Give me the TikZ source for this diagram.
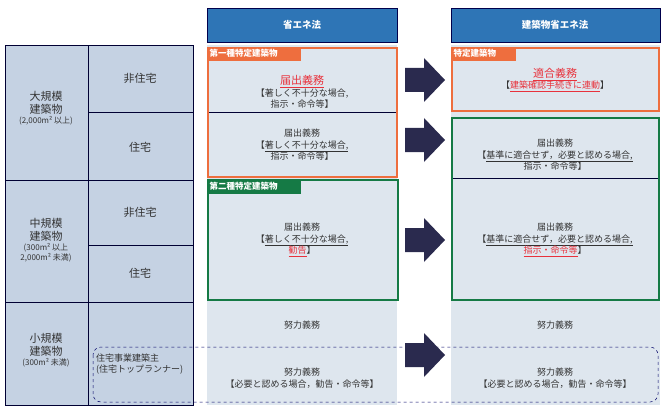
\documentclass[tikz,border=0pt]{standalone}
\usepackage{fontspec}
\setmainfont{Noto Sans CJK JP}
\newcommand{\smf}{\fontsize{8}{9}\selectfont}
\begin{document}
\begin{tikzpicture}[x=1pt,y=-1pt,
  cell/.style={draw=black!80!blue,line width=0.6pt,fill=cellc},
  txt/.style={align=center,font=\fontsize{9}{11.5}\selectfont,text=black!80,inner sep=1pt},
  big/.style={align=center,font=\fontsize{11}{13.5}\selectfont,text=black!80,inner sep=1pt},
  tag/.style={anchor=north west,font=\bfseries\fontsize{8.5}{10}\selectfont,text=white,inner sep=1.5pt},
  arr/.style={fill=navyc},
  hdr/.style={draw=black!70!blue,fill=hdrc,line width=0.8pt}]
\definecolor{cellc}{HTML}{C5D2E3}
\definecolor{bgc}{HTML}{DEE6EE}
\definecolor{hdrc}{HTML}{2E75B6}
\definecolor{orc}{HTML}{EE6E3E}
\definecolor{grc}{HTML}{157A45}
\definecolor{navyc}{HTML}{2A2A4E}
\definecolor{redc}{HTML}{E8323C}
\useasboundingbox (0,0) rectangle (666,409);
% left table
\draw[cell] (5,45) rectangle (88,180);
\draw[cell] (5,180) rectangle (88,302);
\draw[cell] (5,302) rectangle (88,405);
\draw[cell] (88,45) rectangle (193,112);
\draw[cell] (88,112) rectangle (193,180);
\draw[cell] (88,180) rectangle (193,245);
\draw[cell] (88,245) rectangle (193,302);
\draw[cell] (88,302) rectangle (193,405);
\node[big] (l1) at (46,108) {大規模\\建築物\\[-4pt]\smf (2,000m² 以上)};
\node[big] (l2) at (46,240) {中規模\\建築物\\[-4pt]\smf (300m² 以上\\[-3pt]\smf 2,000m² 未満)};
\node[big] (l3) at (46,350) {小規模\\建築物\\[-4pt]\smf (300m² 未満)};
\node[big] (s1) at (140,78) {非住宅};
\node[big] (s2) at (140,147) {住宅};
\node[big] (s3) at (140,212) {非住宅};
\node[big] (s4) at (140,273) {住宅};
% headers
\draw[hdr] (207,8) rectangle (397,42);
\node[font=\bfseries\fontsize{9.5}{11}\selectfont,text=white] (h1) at (302,25) {省エネ法};
\draw[hdr] (451,8) rectangle (660,42);
\node[font=\bfseries\fontsize{9.5}{11}\selectfont,text=white] (h2) at (555,25) {建築物省エネ法};
% backgrounds
\fill[bgc] (207,45) rectangle (397,405);
\fill[bgc] (451,45) rectangle (660,405);
\draw[black!80!blue,line width=0.5pt] (207,112) -- (397,112);
\draw[black!80!blue,line width=0.5pt] (451,178) -- (660,178);
% orange/green boxes
\draw[orc,line width=2pt] (208,48) rectangle (397,177);
\fill[orc] (208,48) rectangle (301,61);
\node[tag] (t1) at (208,47.5) {第一種特定建築物};
\draw[grc,line width=2pt] (208,180) rectangle (398,300);
\fill[grc] (208,180) rectangle (301,194);
\node[tag] (t2) at (208,180) {第二種特定建築物};
\draw[orc,line width=2pt] (452,48) rectangle (659,111);
\fill[orc] (452,48) rectangle (516,61);
\node[tag] (t3) at (452,47.5) {特定建築物};
\draw[grc,line width=2pt] (452,118) rectangle (659,300);
% middle texts
\node[txt] (m1) at (302,92) {\fontsize{11}{13}\selectfont\textcolor{redc}{\underline{届出義務}}\\【著しく不十分な場合,\\指示・命令等】};
\node[txt] (m2) at (302,145) {届出義務\\【\underline{著しく不十分な場合,}\\指示・命令等】};
\node[txt] (m3) at (302,240) {届出義務\\【\underline{著しく不十分な場合,}\\\textcolor{redc}{\underline{勧告}}】};
\node[txt] (m4) at (302,325) {努力義務};
\node[txt] (m5) at (302,378) {努力義務\\【必要と認める場合，勧告・命令等】};
% right texts
\node[txt] (r1) at (555,80) {\fontsize{11}{13}\selectfont\textcolor{redc}{\underline{適合義務}}\\【\textcolor{redc}{\underline{建築確認手続きに連動}}】};
\node[txt] (r2) at (555,155) {届出義務\\【\underline{基準に適合せず，必要と認める場合,}\\指示・命令等】};
\node[txt] (r3) at (555,240) {届出義務\\【\underline{基準に適合せず，必要と認める場合,}\\\textcolor{redc}{\underline{指示・命令等}}】};
\node[txt] (r4) at (555,325) {努力義務};
\node[txt] (r5) at (555,378) {努力義務\\【必要と認める場合，勧告・命令等】};
% dashed
\draw[dashed,rounded corners=8pt,black!60!blue,line width=0.5pt] (93,347) rectangle (658,402);
\node[txt,align=left,anchor=west] (d1) at (95,364) {住宅事業建築主\\(住宅トップランナー)};
% arrows
\foreach \y/\n in {80/a1,140/a2,240/a3,355/a4}{
  \coordinate (\n) at (425,\y);
  \fill[arr] (405,\y-12) -- (424,\y-12) -- (424,\y-22) -- (445,\y) -- (424,\y+22) -- (424,\y+12) -- (405,\y+12) -- cycle;
}
\end{tikzpicture}
\end{document}
